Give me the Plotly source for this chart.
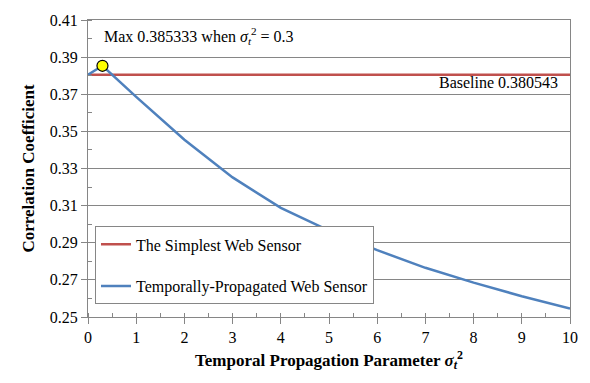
import subprocess
import plotly.graph_objects as go

# Make sure the fontconfig cache is current so the serif faces resolve
try:
    subprocess.run(["fc-list", ":", "family"], capture_output=True, text=True, timeout=20)
except Exception:
    pass

# Temporal propagation parameter sigma_t^2 and the resulting correlation
sigma_sq = [0, 0.3, 1, 2, 3, 4, 5, 6, 7, 8, 9, 10]
corr_propagated = [0.380543, 0.385333, 0.3686, 0.3455, 0.3252, 0.3088, 0.2965,
                   0.2860, 0.2765, 0.2685, 0.2612, 0.2546]
baseline_value = 0.380543
max_x = 0.3
max_value = 0.385333

serif = "Liberation Serif"
red = "#C0504D"
blue = "#4F81BD"
grey = "#868686"


def tfont(size, weight=400):
    return dict(family=serif, size=size, color="black", weight=weight)


fig = go.Figure()

fig.add_trace(go.Scatter(
    x=[sigma_sq[0], sigma_sq[-1]], y=[baseline_value, baseline_value],
    mode="lines", line=dict(color=red, width=2.5),
    name="The Simplest Web Sensor", legendgroup="a",
))
fig.add_trace(go.Scatter(
    x=sigma_sq, y=corr_propagated,
    mode="lines", line=dict(color=blue, width=2.5),
    name="Temporally-Propagated Web Sensor", legendgroup="b",
))
fig.add_trace(go.Scatter(
    x=[max_x], y=[max_value], mode="markers",
    marker=dict(color="#FFFF00", size=11, line=dict(color="black", width=1.2)),
    showlegend=False,
))

fig.add_annotation(
    x=max_x, y=0.4015, xref="x", yref="y", xanchor="left", yanchor="middle",
    text=f"Max {max_value} when <i>σ</i><sub><i>t</i></sub><sup>2</sup> = {max_x}",
    showarrow=False, font=tfont(16),
)
fig.add_annotation(
    x=9.8, y=0.3763, xref="x", yref="y", xanchor="right", yanchor="middle",
    text=f"Baseline {baseline_value}",
    showarrow=False, font=tfont(16),
)

fig.update_layout(
    width=590, height=383,
    margin=dict(l=88, r=19, t=12, b=66),
    paper_bgcolor="white", plot_bgcolor="white",
    font=dict(color="black"),
    showlegend=True,
    legend=dict(
        x=0.0145, y=0.305, xanchor="left", yanchor="top",
        bgcolor="white", bordercolor=grey, borderwidth=1,
        font=tfont(16),
        traceorder="grouped", tracegroupgap=18,
    ),
    xaxis=dict(
        range=[0, 10], dtick=1, tick0=0,
        showline=True, linecolor=grey, linewidth=1.3, mirror=True,
        showgrid=False, zeroline=False,
        ticks="outside", ticklen=6, tickcolor=grey,
        minor=dict(dtick=0.5, ticks="inside", ticklen=4, tickcolor=grey, showgrid=False),
        tickfont=tfont(16),
        title=dict(text="Temporal Propagation Parameter <i>σ</i><sub><i>t</i></sub><sup>2</sup>",
                   font=tfont(17, 700), standoff=8),
    ),
    yaxis=dict(
        range=[0.25, 0.41], dtick=0.02, tick0=0.25, tickformat=".2f",
        showline=True, linecolor=grey, linewidth=1.3, mirror=True,
        showgrid=True, gridcolor=grey, gridwidth=1, zeroline=False,
        ticks="outside", ticklen=6, tickcolor=grey,
        minor=dict(dtick=0.01, ticks="inside", ticklen=4, tickcolor=grey, showgrid=False),
        tickfont=tfont(16),
        title=dict(text="Correlation Coefficient", font=tfont(17, 700), standoff=10),
    ),
)

fig.write_html("out.html")
